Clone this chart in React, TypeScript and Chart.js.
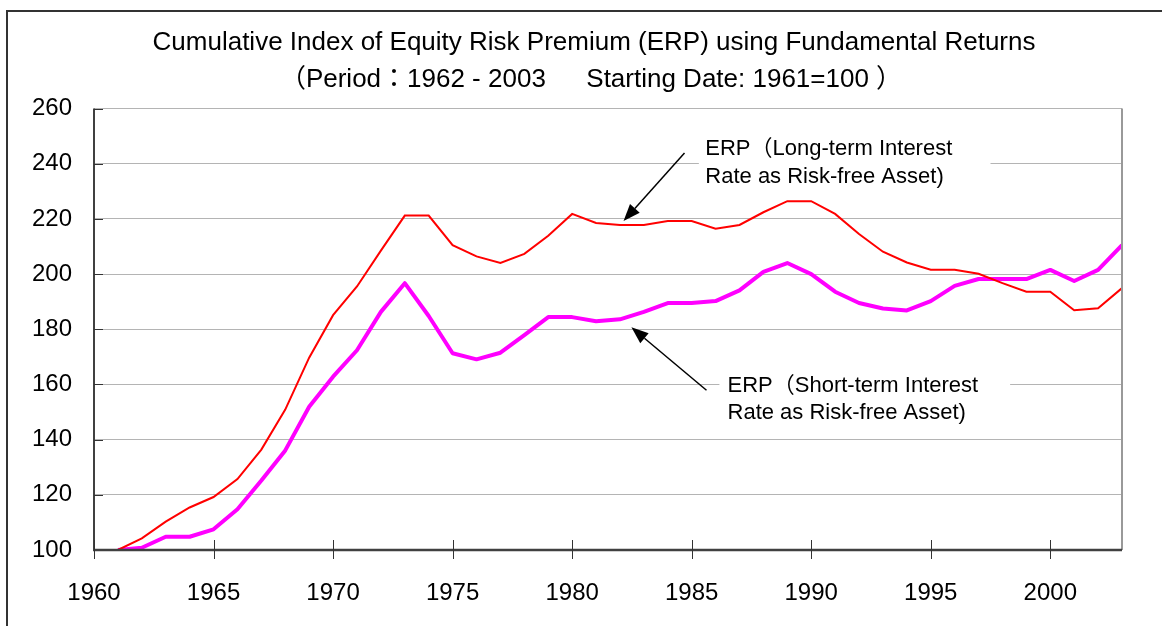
import React, { useEffect, useRef } from "react";
import { Chart, registerables } from "chart.js";

Chart.register(...registerables);

const titleLines = [
  "Cumulative Index of Equity Risk Premium (ERP) using Fundamental Returns",
  "（Period：1962 - 2003　  Starting Date: 1961=100 ）",
];

const years = [
  1961, 1962, 1963, 1964, 1965, 1966, 1967, 1968, 1969, 1970,
  1971, 1972, 1973, 1974, 1975, 1976, 1977, 1978, 1979, 1980,
  1981, 1982, 1983, 1984, 1985, 1986, 1987, 1988, 1989, 1990,
  1991, 1992, 1993, 1994, 1995, 1996, 1997, 1998, 1999, 2000,
  2001, 2002, 2003,
];

const erpLongTerm = [
  100, 104.2, 110.3, 115.4, 119.2, 125.7, 136.4, 150.9, 169.7, 185.1,
  195.5, 208.5, 221.2, 221.2, 210.5, 206.4, 204.0, 207.3, 213.9, 221.8,
  218.5, 217.8, 217.8, 219.2, 219.2, 216.4, 217.8, 222.4, 226.4, 226.4,
  221.8, 214.5, 208.1, 204.2, 201.6, 201.6, 200.1, 196.7, 193.6, 193.6,
  186.9, 187.6, 194.9,
];

const erpShortTerm = [
  100, 100.8, 104.8, 104.8, 107.5, 114.8, 125.2, 136.1, 151.9, 162.8,
  172.4, 186.3, 196.7, 184.8, 171.3, 169.1, 171.5, 177.9, 184.4, 184.4,
  182.9, 183.6, 186.3, 189.5, 189.5, 190.2, 194.1, 200.8, 204.0, 200.0,
  193.6, 189.5, 187.5, 186.8, 190.2, 195.7, 198.2, 198.2, 198.2, 201.5,
  197.5, 201.5, 210.5,
];

const xTickValues = [1960, 1965, 1970, 1975, 1980, 1985, 1990, 1995, 2000];
const yTickValues = [100, 120, 140, 160, 180, 200, 220, 240, 260];

const longLabel = ["ERP（Long-term Interest", "Rate as Risk-free Asset)"];
const shortLabel = ["ERP（Short-term Interest", "Rate as Risk-free Asset)"];

// annotation anchors in data coordinates
const longNote = {
  box: [1985.3, 251.0, 1997.5, 230.3],
  text: [1985.57, 243.1, 233.0],
  arrowFrom: [1984.7, 243.9],
  arrowTo: [1982.15, 219.2],
};
const shortNote = {
  box: [1986.16, 165.1, 1998.32, 145.2],
  text: [1986.5, 157.1, 147.4],
  arrowFrom: [1985.62, 157.9],
  arrowTo: [1982.48, 180.7],
};

const FONT = "'Liberation Sans', Arial, 'Noto Sans CJK JP', sans-serif";

function drawArrow(ctx: CanvasRenderingContext2D, x1: number, y1: number, x2: number, y2: number) {
  const ang = Math.atan2(y2 - y1, x2 - x1);
  const len = 17;
  const half = 6.5;
  const bx = x2 - len * Math.cos(ang);
  const by = y2 - len * Math.sin(ang);
  ctx.save();
  ctx.strokeStyle = "#000";
  ctx.fillStyle = "#000";
  ctx.lineWidth = 1.5;
  ctx.beginPath();
  ctx.moveTo(x1, y1);
  ctx.lineTo(bx, by);
  ctx.stroke();
  ctx.beginPath();
  ctx.moveTo(x2, y2);
  ctx.lineTo(bx + half * Math.sin(ang), by - half * Math.cos(ang));
  ctx.lineTo(bx - half * Math.sin(ang), by + half * Math.cos(ang));
  ctx.closePath();
  ctx.fill();
  ctx.restore();
}

const decorPlugin = {
  id: "decor",
  beforeDatasetsDraw(chart: any) {
    const ctx: CanvasRenderingContext2D = chart.ctx;
    const xs = chart.scales.x;
    const ys = chart.scales.y;
    const notes = [
      { n: longNote, lines: longLabel },
      { n: shortNote, lines: shortLabel },
    ];
    ctx.save();
    for (const { n, lines } of notes) {
      const bx1 = xs.getPixelForValue(n.box[0]);
      const by1 = ys.getPixelForValue(n.box[1]);
      const bx2 = xs.getPixelForValue(n.box[2]);
      const by2 = ys.getPixelForValue(n.box[3]);
      ctx.fillStyle = "#fff";
      ctx.fillRect(bx1, by1, bx2 - bx1, by2 - by1);
      ctx.fillStyle = "#000";
      ctx.font = `22px ${FONT}`;
      ctx.textAlign = "left";
      ctx.textBaseline = "alphabetic";
      const tx = xs.getPixelForValue(n.text[0]);
      ctx.fillText(lines[0], tx, ys.getPixelForValue(n.text[1]));
      ctx.fillText(lines[1], tx, ys.getPixelForValue(n.text[2]));
      drawArrow(
        ctx,
        xs.getPixelForValue(n.arrowFrom[0]),
        ys.getPixelForValue(n.arrowFrom[1]),
        xs.getPixelForValue(n.arrowTo[0]),
        ys.getPixelForValue(n.arrowTo[1])
      );
    }
    ctx.restore();
  },
  afterDraw(chart: any) {
    const ctx: CanvasRenderingContext2D = chart.ctx;
    const { left, right, top, bottom } = chart.chartArea;
    const xs = chart.scales.x;
    const ys = chart.scales.y;
    ctx.save();
    // title
    ctx.fillStyle = "#000";
    ctx.font = `26px ${FONT}`;
    ctx.textAlign = "center";
    ctx.textBaseline = "alphabetic";
    ctx.fillText(titleLines[0], 594, 50);
    ctx.fillText(titleLines[1], 591, 87);
    // right frame
    ctx.strokeStyle = "#999";
    ctx.lineWidth = 2;
    ctx.beginPath();
    ctx.moveTo(right, top);
    ctx.lineTo(right, bottom);
    ctx.stroke();
    // left axis
    ctx.strokeStyle = "#404040";
    ctx.lineWidth = 2;
    ctx.beginPath();
    ctx.moveTo(left, top);
    ctx.lineTo(left, bottom + 1);
    ctx.stroke();
    // y ticks (inward)
    ctx.lineWidth = 1;
    ctx.strokeStyle = "#333";
    for (const v of yTickValues) {
      const y = Math.round(ys.getPixelForValue(v)) + 0.5;
      ctx.beginPath();
      ctx.moveTo(left, y);
      ctx.lineTo(left + 9, y);
      ctx.stroke();
    }
    // bottom axis
    ctx.strokeStyle = "#404040";
    ctx.lineWidth = 2.5;
    ctx.beginPath();
    ctx.moveTo(left - 1, bottom);
    ctx.lineTo(right, bottom);
    ctx.stroke();
    // x ticks (crossing)
    ctx.lineWidth = 1;
    ctx.strokeStyle = "#333";
    for (const v of xTickValues) {
      const x = Math.round(xs.getPixelForValue(v)) + 0.5;
      ctx.beginPath();
      ctx.moveTo(x, bottom - 10);
      ctx.lineTo(x, bottom + 9);
      ctx.stroke();
    }
    // outer frame
    ctx.strokeStyle = "#333";
    ctx.lineWidth = 2;
    ctx.beginPath();
    ctx.moveTo(7, chart.height + 5);
    ctx.lineTo(7, 11);
    ctx.lineTo(chart.width + 5, 11);
    ctx.stroke();
    ctx.restore();
  },
};

export default function App() {
  const ref = useRef<HTMLCanvasElement | null>(null);
  useEffect(() => {
    if (!ref.current) return;
    const chart = new Chart(ref.current, {
      type: "line",
      data: {
        datasets: [
          {
            label: "ERP (Long-term)",
            data: years.map((y, i) => ({ x: y, y: erpLongTerm[i] })),
            borderColor: "#ff0000",
            borderWidth: 2,
            pointRadius: 0,
            tension: 0,
            fill: false,
          },
          {
            label: "ERP (Short-term)",
            data: years.map((y, i) => ({ x: y, y: erpShortTerm[i] })),
            borderColor: "#ff00ff",
            borderWidth: 4,
            pointRadius: 0,
            tension: 0,
            fill: false,
            borderJoinStyle: "round",
          },
        ],
      },
      options: {
        responsive: false,
        animation: false,
        devicePixelRatio: 1,
        layout: { padding: { left: 0, right: 40, top: 108.5, bottom: 0 } },
        plugins: {
          legend: { display: false },
          tooltip: { enabled: false },
          title: { display: false },
        },
        scales: {
          x: {
            type: "linear",
            min: 1960,
            max: 2003,
            afterBuildTicks: (s: any) => {
              s.ticks = xTickValues.map((v) => ({ value: v }));
            },
            afterFit: (s: any) => {
              s.height = 76;
            },
            grid: { display: false, drawTicks: false },
            border: { display: false },
            ticks: {
              color: "#000",
              font: { family: FONT, size: 24 },
              padding: 29,
              maxRotation: 0,
              autoSkip: false,
              callback: (v: any) => String(v),
            },
          },
          y: {
            type: "linear",
            min: 100,
            max: 260,
            afterBuildTicks: (s: any) => {
              s.ticks = yTickValues.map((v) => ({ value: v }));
            },
            afterFit: (s: any) => {
              s.width = 94;
            },
            grid: { color: "#b4b4b4", lineWidth: 1, drawTicks: false },
            border: { display: false },
            ticks: {
              color: "#000",
              font: { family: FONT, size: 24 },
              padding: 22,
              callback: (v: any) => String(v),
            },
          },
        },
      },
      plugins: [decorPlugin],
    } as any);
    return () => chart.destroy();
  }, []);
  return (
    <div
      style={{
        position: "fixed",
        left: 0,
        top: 0,
        width: 1162,
        height: 626,
        background: "#fff",
      }}
    >
      <canvas ref={ref} width={1162} height={626} style={{ display: "block" }} />
    </div>
  );
}
